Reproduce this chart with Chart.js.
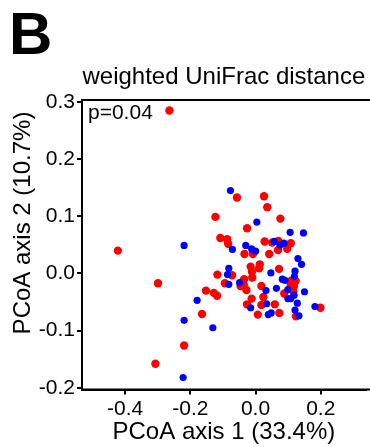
<!DOCTYPE html>
<html>
<head>
<meta charset="utf-8">
<script src="https://cdn.jsdelivr.net/npm/chart.js@4"></script>
<style>
  html, body { margin: 0; padding: 0; background: #fff; }
  #wrap { width: 370px; height: 447px; }
</style>
</head>
<body>
<div id="wrap"><canvas id="c" width="370" height="447"></canvas></div>
<script>
// group 1 (red)
const redX = [-0.264, -0.422, -0.299, -0.164, -0.219, -0.307, -0.152, -0.128, -0.118, -0.117,
  -0.094, -0.108, -0.087, -0.084, -0.057, 0.026, 0.036, -0.123, 0.076, -0.026,
  -0.034, -0.008, 0.028, 0.051, 0.070, 0.108, 0.097, 0.069, 0.042, 0.013,
  0.011, -0.015, -0.011, -0.010, -0.072, 0.072, 0.108, 0.123, 0.108, 0.118,
  -0.035, -0.036, -0.046, -0.028, 0.018, 0.088, 0.116, 0.024, -0.012, -0.026,
  0.018, 0.059, 0.124, 0.199, 0.007, 0.073];
const redY = [0.285, 0.040, -0.017, -0.071, -0.126, -0.158, -0.030, -0.034, -0.039, -0.002,
  -0.017, 0.062, 0.060, 0.052, 0.133, 0.135, 0.116, 0.099, 0.096, 0.079,
  0.034, 0.034, 0.056, 0.054, 0.057, 0.053, 0.043, 0.041, 0.034, 0.016,
  0.009, 0.012, 0.003, -0.007, -0.003, 0.008, -0.013, -0.013, -0.020, -0.022,
  -0.010, -0.020, -0.022, -0.029, -0.022, -0.035, -0.032, -0.041, -0.044, -0.054,
  -0.055, -0.054, -0.075, -0.060, -0.072, -0.069];

// group 2 (blue)
const blueX = [-0.219, -0.179, -0.219, -0.131, -0.222, -0.082, -0.086, -0.082, -0.077, 0.004,
  0.106, 0.147, -0.071, -0.030, -0.012, 0.000, 0.057, 0.075, 0.087, 0.130,
  0.141, 0.047, 0.121, 0.119, 0.082, 0.090, -0.049, 0.032, 0.064, 0.099,
  0.108, 0.118, 0.099, 0.150, -0.015, 0.034, 0.128, 0.121, 0.133, 0.182,
  0.039, 0.048];
const blueY = [0.049, -0.047, -0.082, -0.095, -0.182, 0.009, -0.002, -0.019, 0.145, 0.090,
  0.072, 0.071, 0.042, 0.049, 0.043, 0.039, 0.056, 0.050, 0.053, 0.026,
  0.016, 0.001, 0.004, -0.005, -0.010, -0.012, -0.016, -0.030, -0.026, -0.028,
  -0.044, -0.038, -0.044, -0.032, -0.060, -0.053, -0.052, -0.064, -0.074, -0.058,
  -0.072, -0.069];

const xTicks = [-0.4, -0.2, 0.0, 0.2];
const yTicks = [-0.2, -0.1, 0.0, 0.1, 0.2, 0.3];

const FONT = 'Arial, "Liberation Sans", sans-serif';

const pts = (xs, ys) => xs.map((x, i) => ({ x: x, y: ys[i] }));

const deco = {
  id: 'deco',
  afterDraw(chart) {
    const { ctx, chartArea } = chart;
    ctx.save();
    ctx.fillStyle = '#000';
    // panel letter
    ctx.font = 'bold 60px ' + FONT;
    ctx.textBaseline = 'alphabetic';
    ctx.fillText('B', 9, 54);
    // top frame line, runs off the right edge like the cropped original
    ctx.strokeStyle = '#000';
    ctx.lineWidth = 2;
    ctx.beginPath();
    ctx.moveTo(chartArea.left, chartArea.top);
    ctx.lineTo(chart.width, chartArea.top);
    ctx.moveTo(chartArea.left, chartArea.bottom);
    ctx.lineTo(chart.width, chartArea.bottom);
    ctx.stroke();
    // p value
    ctx.font = '21px ' + FONT;
    ctx.textBaseline = 'middle';
    ctx.fillText('p=0.04', 88, 113);
    // y axis title (sits above the centre of the axis in the original)
    ctx.translate(23, 223);
    ctx.rotate(-Math.PI / 2);
    ctx.font = '24px ' + FONT;
    ctx.textAlign = 'center';
    ctx.fillText('PCoA axis 2 (10.7%)', 0, 0);
    ctx.restore();
  }
};

const axisCommon = {
  type: 'linear',
  grid: { display: true, drawOnChartArea: false, drawTicks: true, tickLength: 5, color: '#000', lineWidth: 2 },
  border: { display: true, color: '#000', width: 2 },
  ticks: { color: '#000', font: { family: FONT, size: 21 }, padding: 2, callback: (v) => Number(v).toFixed(1) }
};

new Chart(document.getElementById('c'), {
  type: 'scatter',
  data: {
    datasets: [
      { label: 'blue', data: pts(blueX, blueY), backgroundColor: '#0000ff', borderWidth: 0, pointRadius: 3.6 },
      { label: 'red', data: pts(redX, redY), backgroundColor: '#ff0000', borderWidth: 0, pointRadius: 4.2 }
    ]
  },
  options: {
    responsive: false,
    animation: false,
    devicePixelRatio: 1,
    layout: { padding: { top: 63, left: 0, right: 0, bottom: 0 } },
    plugins: {
      legend: { display: false },
      tooltip: { enabled: false },
      title: {
        display: true, fullSize: false, text: 'weighted UniFrac distance', color: '#000',
        font: { family: FONT, size: 24, weight: 'normal' }, padding: { top: 0, bottom: 8.2 }
      }
    },
    scales: {
      x: Object.assign({}, axisCommon, {
        position: 'bottom', min: -0.532, max: 0.338,
        afterBuildTicks: (s) => { s.ticks = xTicks.map((v) => ({ value: v })); },
        afterFit: (s) => { s.height = 57.5; },
        title: { display: true, text: 'PCoA axis 1 (33.4%)', color: '#000', font: { family: FONT, size: 24 }, padding: { top: 0, bottom: 0.6 } }
      }),
      y: Object.assign({}, axisCommon, {
        position: 'left', min: -0.203, max: 0.3035,
        afterBuildTicks: (s) => { s.ticks = yTicks.map((v) => ({ value: v })); },
        afterFit: (s) => { s.width = 82; }
      })
    }
  },
  plugins: [deco]
});
</script>
</body>
</html>
